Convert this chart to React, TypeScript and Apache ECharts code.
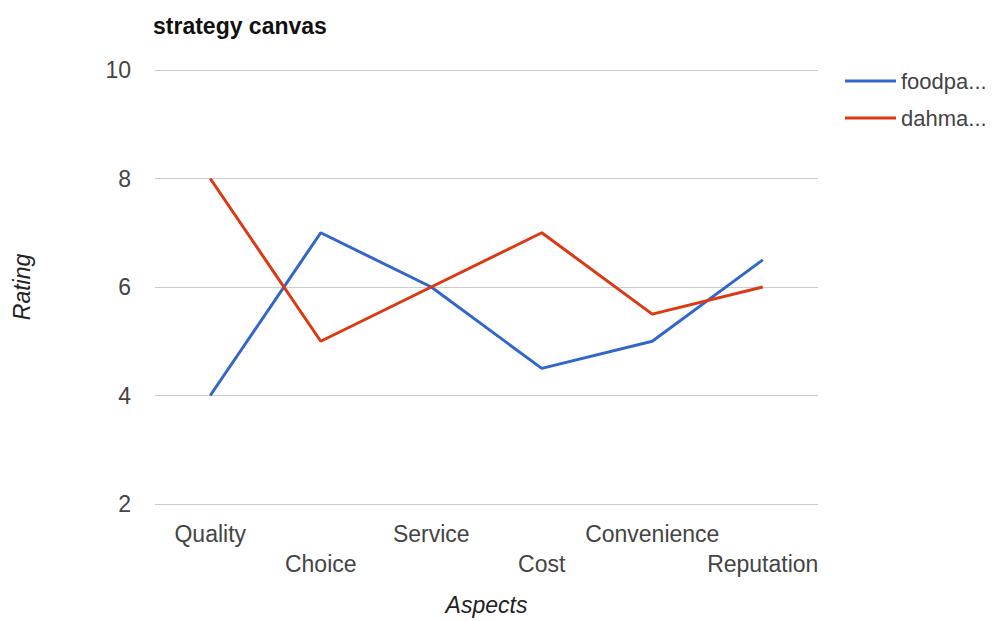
import React, { useEffect, useRef } from "react";
import * as echarts from "echarts";

// Aspects compared on the strategy canvas
const aspects = ["Quality", "Choice", "Service", "Cost", "Convenience", "Reputation"];

// Ratings per competitor
const seriesNames = ["foodpanda", "dahmakan"];
const legendLabels = ["foodpa...", "dahma..."];
const foodpandaRatings = [4, 7, 6, 4.5, 5, 6.5];
const dahmakanRatings = [8, 5, 6, 7, 5.5, 6];

// Rating axis
const ratingMin = 2;
const ratingMax = 10;
const ratingStep = 2;

const FONT = "Arial, 'Liberation Sans', sans-serif";

export default function App() {
  const ref = useRef<HTMLDivElement>(null);

  useEffect(() => {
    if (!ref.current) return;
    const chart = echarts.init(ref.current, null, { renderer: "svg" });
    chart.setOption({
      animation: false,
      backgroundColor: "#ffffff",
      textStyle: { fontFamily: FONT },
      title: {
        text: "strategy canvas",
        left: 148,
        top: 9,
        textStyle: { fontFamily: FONT, fontSize: 23, fontWeight: "bold", color: "#111111" },
      },
      legend: {
        orient: "vertical",
        left: 840,
        top: 65,
        icon: "rect",
        itemWidth: 51,
        itemHeight: 3,
        itemGap: 15,
        formatter: (name: string) => legendLabels[seriesNames.indexOf(name)] ?? name,
        textStyle: { fontFamily: FONT, fontSize: 22, color: "#444444" },
      },
      grid: { left: 155, right: 178, top: 70, bottom: 114, containLabel: false },
      xAxis: {
        type: "category",
        data: aspects,
        boundaryGap: true,
        name: "Aspects",
        nameLocation: "middle",
        nameGap: 89,
        nameTextStyle: { fontFamily: FONT, fontSize: 23, fontStyle: "italic", color: "#222222" },
        axisLine: { show: false },
        axisTick: { show: false },
        axisLabel: {
          interval: 0,
          margin: 15,
          fontFamily: FONT,
          fontSize: 23,
          color: "#444444",
          lineHeight: 30,
          formatter: (value: string, index: number) => (index % 2 === 1 ? "\n" + value : value),
        },
      },
      yAxis: {
        type: "value",
        min: ratingMin,
        max: ratingMax,
        interval: ratingStep,
        name: "Rating",
        nameLocation: "middle",
        nameGap: 122,
        nameTextStyle: { fontFamily: FONT, fontSize: 23, fontStyle: "italic", color: "#222222" },
        axisLine: { show: false },
        axisTick: { show: false },
        axisLabel: { margin: 24, fontFamily: FONT, fontSize: 23, color: "#444444" },
        splitLine: { lineStyle: { color: "#cccccc", width: 1 } },
      },
      series: [
        {
          name: seriesNames[0],
          type: "line",
          data: foodpandaRatings,
          showSymbol: false,
          symbol: "none",
          lineStyle: { color: "#3366cc", width: 3 },
          itemStyle: { color: "#3366cc" },
        },
        {
          name: seriesNames[1],
          type: "line",
          data: dahmakanRatings,
          showSymbol: false,
          symbol: "none",
          lineStyle: { color: "#dc3912", width: 3 },
          itemStyle: { color: "#dc3912" },
        },
      ],
    });
    return () => chart.dispose();
  }, []);

  return <div ref={ref} style={{ width: 996, height: 621, position: "fixed", left: 0, top: 0 }} />;
}
